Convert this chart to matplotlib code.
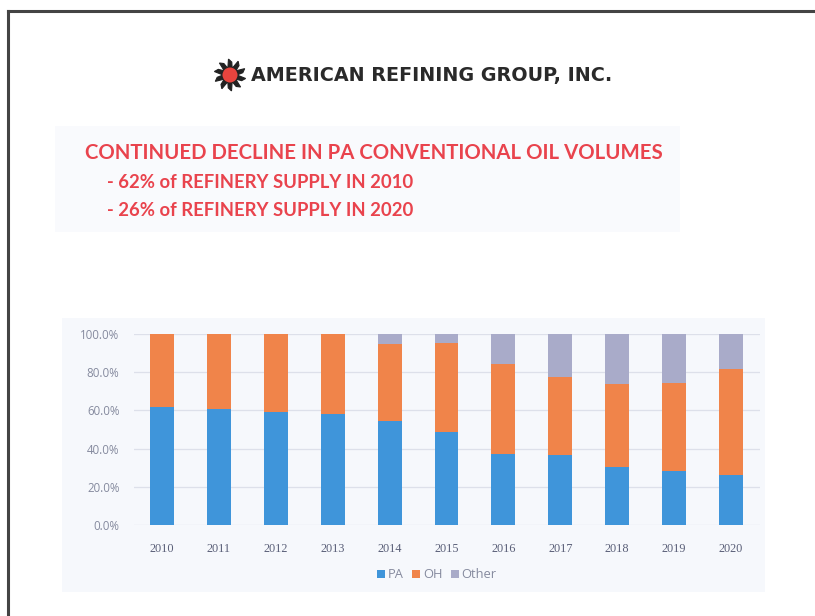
import numpy as np
import matplotlib
matplotlib.use("Agg")
import matplotlib.pyplot as plt
from matplotlib.patches import Rectangle, Polygon, Circle

# Refinery supply share by origin (percent of total)
years = ["2010", "2011", "2012", "2013", "2014", "2015", "2016", "2017", "2018", "2019", "2020"]
pa_share = [62.0, 60.5, 59.0, 58.0, 54.5, 48.5, 37.0, 36.5, 30.5, 28.5, 26.0]
oh_share = [38.0, 39.5, 41.0, 42.0, 40.5, 47.0, 47.5, 41.0, 43.5, 46.0, 55.5]
other_share = [0.0, 0.0, 0.0, 0.0, 5.0, 4.5, 15.5, 22.5, 26.0, 25.5, 18.5]
series_names = ["PA", "OH", "Other"]
y_ticks = [0, 20, 40, 60, 80, 100]

colors = ["#3f95da", "#f0844a", "#a9abc9"]

W, H = 815, 616
fig = plt.figure(figsize=(W / 100, H / 100), dpi=100)
fig.patch.set_facecolor("white")

# full-figure overlay in pixel coordinates for frame, logo and panels
bg = fig.add_axes([0, 0, 1, 1])
bg.set_xlim(0, W)
bg.set_ylim(H, 0)
bg.axis("off")

# slide frame
bg.plot([7.5, 7.5], [10.5, H], color="#444444", lw=2.2)
bg.plot([7.5, W], [10.5, 10.5], color="#444444", lw=2.2)

# faint panel behind the headline
bg.add_patch(Rectangle((55, 126), 625, 106, facecolor="#f9fafd", edgecolor="none"))
# chart panel
bg.add_patch(Rectangle((62, 318), 703, 274, facecolor="#f6f8fc", edgecolor="none"))

# logo: spiky wheel with red hub
cx, cy = 230, 75
n_blades = 10
pts = []
for i in range(n_blades):
    a0 = 2 * np.pi * i / n_blades
    for r, da in [(7, 0.0), (16, 0.22), (13, 0.45)]:
        a = a0 + da
        pts.append((cx + r * np.cos(a), cy + r * np.sin(a)))
bg.add_patch(Polygon(pts, closed=True, facecolor="#222222", edgecolor="#222222", lw=0.8))
bg.add_patch(Circle((cx, cy), 7.5, facecolor="#e8443e", edgecolor="none"))
bg.text(251, 75, "AMERICAN REFINING GROUP, INC.", fontsize=13.8, fontweight="bold",
        family="DejaVu Sans", color="#2a2a2a", va="center", ha="left")

# headline text
red = "#e9434d"
bg.text(85, 153, "CONTINUED DECLINE IN PA CONVENTIONAL OIL VOLUMES", fontsize=14.7,
        fontweight="bold", family="Lato", color=red, va="center", ha="left")
bg.text(107, 183, "- 62% of REFINERY SUPPLY IN 2010", fontsize=13.3,
        fontweight="bold", family="Lato", color=red, va="center", ha="left")
bg.text(107, 211, "- 26% of REFINERY SUPPLY IN 2020", fontsize=13.3,
        fontweight="bold", family="Lato", color=red, va="center", ha="left")

# stacked bar chart
left, right = 133.5, 759.5
top, bottom = 334, 525
ax = fig.add_axes([left / W, 1 - bottom / H, (right - left) / W, (bottom - top) / H])
ax.set_facecolor("none")
x = np.arange(len(years))
bw = 0.42
ax.bar(x, pa_share, bw, color=colors[0], label=series_names[0], zorder=3)
ax.bar(x, oh_share, bw, bottom=pa_share, color=colors[1], label=series_names[1], zorder=3)
base = np.array(pa_share) + np.array(oh_share)
ax.bar(x, other_share, bw, bottom=base, color=colors[2], label=series_names[2], zorder=3)

ax.set_xlim(-0.5, len(years) - 0.5)
ax.set_ylim(0, 100)
ax.set_yticks(y_ticks)
ax.set_yticklabels([f"{v:.1f}%" for v in y_ticks], fontsize=8.3, color="#858a9e", family="Open Sans")
ax.set_xticks(x)
ax.set_xticklabels(years, fontsize=8.8, color="#5a5f78", family="Liberation Serif")
ax.tick_params(axis="both", length=0)
ax.tick_params(axis="y", pad=10)
ax.tick_params(axis="x", pad=13)
ax.grid(axis="y", color="#dde0ea", lw=0.9, zorder=0)
for s in ax.spines.values():
    s.set_visible(False)

handles = [Rectangle((0, 0), 1, 1, facecolor=c) for c in colors]
fig.legend(handles, series_names, loc="center", bbox_to_anchor=(437 / W, 1 - 575 / H),
           ncol=3, frameon=False, handlelength=0.6, handleheight=0.6,
           handletextpad=0.2, columnspacing=0.7, labelcolor="#858a9e",
           prop={"family": "Open Sans", "size": 9.3})

fig.savefig("out.png", dpi=100)
